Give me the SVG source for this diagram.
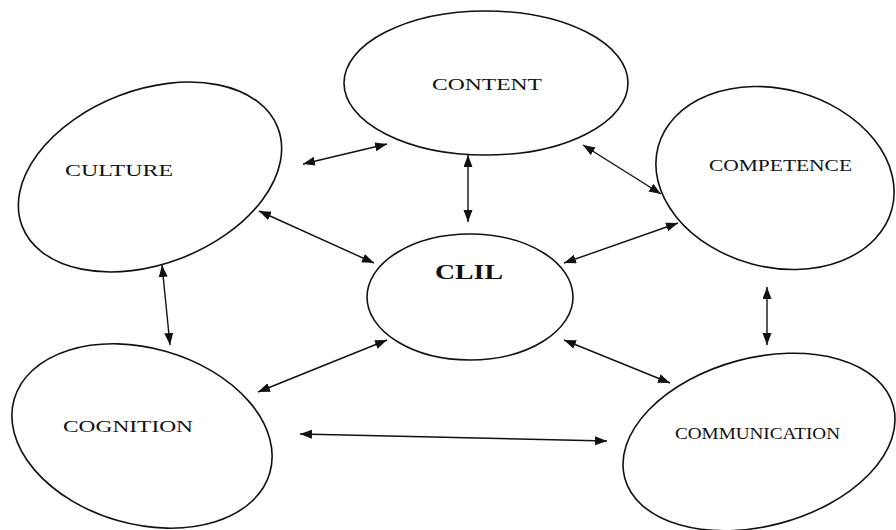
<svg xmlns="http://www.w3.org/2000/svg" width="896" height="530" viewBox="0 0 896 530">
<style>
.node ellipse{fill:#fff;stroke:#111;stroke-width:1.6}
.lbl{font-family:"Liberation Serif","Times New Roman",serif;font-size:16px;fill:#111;text-anchor:start}
.bold{font-weight:bold;font-size:21px}
.conn line{stroke:#111;stroke-width:1.4;marker-start:url(#ah);marker-end:url(#ah)}
</style>
<defs>
<marker id="ah" markerUnits="userSpaceOnUse" markerWidth="13" markerHeight="10" refX="12" refY="4.5" orient="auto-start-reverse">
<path d="M0,0 L12,4.5 L0,9 z" fill="#111"/>
</marker>
</defs>
<rect width="896" height="530" fill="#fff"/>
<g id="content" class="node">
<ellipse cx="486" cy="83" rx="142" ry="72"/>
<text class="lbl" x="432" y="90" textLength="110" lengthAdjust="spacingAndGlyphs">CONTENT</text>
</g>
<g id="culture" class="node">
<ellipse cx="150" cy="177" rx="137" ry="87" transform="rotate(-21 150 177)"/>
<text class="lbl" x="65" y="176" textLength="108" lengthAdjust="spacingAndGlyphs">CULTURE</text>
</g>
<g id="competence" class="node">
<ellipse cx="775" cy="178" rx="121" ry="89" transform="rotate(15 775 178)"/>
<text class="lbl" x="709" y="171" font-size="15" textLength="143" lengthAdjust="spacingAndGlyphs">COMPETENCE</text>
</g>
<g id="clil" class="node">
<ellipse cx="470" cy="297" rx="103" ry="63"/>
<text class="lbl bold" x="435" y="279" textLength="68" lengthAdjust="spacingAndGlyphs">CLIL</text>
</g>
<g id="cognition" class="node">
<ellipse cx="142" cy="436" rx="133" ry="88" transform="rotate(16 142 436)"/>
<text class="lbl" x="63" y="432" textLength="130" lengthAdjust="spacingAndGlyphs">COGNITION</text>
</g>
<g id="communication" class="node">
<ellipse cx="759" cy="442" rx="139" ry="84" transform="rotate(-15 759 442)"/>
<text class="lbl" x="675" y="439" font-size="15" textLength="165" lengthAdjust="spacingAndGlyphs">COMMUNICATION</text>
</g>
<g id="connectors" class="conn">
<line x1="303" y1="164" x2="387" y2="144"/>
<line x1="468" y1="155" x2="468" y2="222"/>
<line x1="583" y1="145" x2="661" y2="194"/>
<line x1="259" y1="211" x2="374" y2="263"/>
<line x1="564" y1="263" x2="678" y2="223"/>
<line x1="162" y1="265" x2="170" y2="345"/>
<line x1="767" y1="287" x2="767" y2="345"/>
<line x1="387" y1="340" x2="258" y2="392"/>
<line x1="564" y1="340" x2="670" y2="383"/>
<line x1="300" y1="434" x2="607" y2="441"/>
</g>
</svg>
